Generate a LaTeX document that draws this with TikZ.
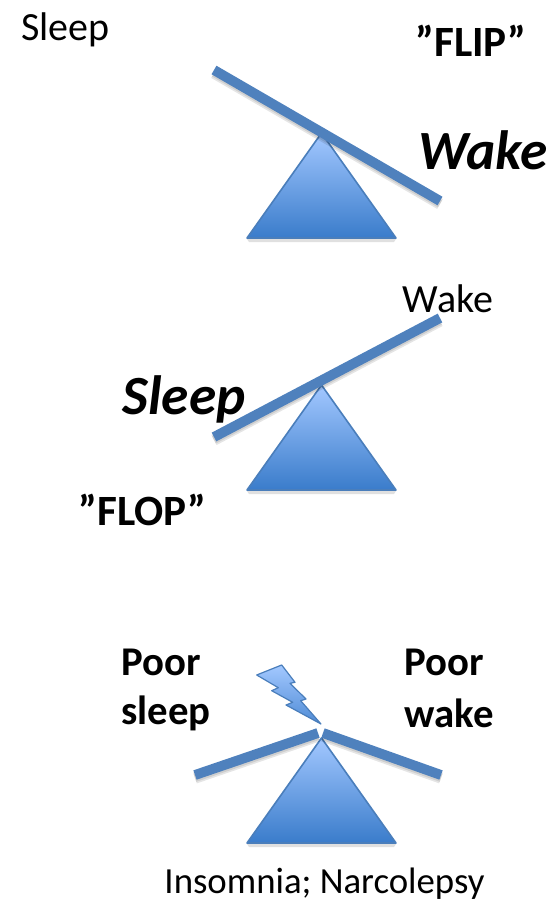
\documentclass[tikz,border=0pt]{standalone}
\usepackage{fontspec}
\setmainfont{Carlito}
\definecolor{beamc}{HTML}{4F81BD}
\definecolor{edgec}{HTML}{4A7EBB}
\definecolor{topc}{HTML}{A3C8FF}
\definecolor{botc}{HTML}{3A7CCB}
\tikzset{
  fulcrum/.style={draw=edgec,line width=1.2pt,line join=round,top color=topc,bottom color=botc},
  softshadow/.style={black,opacity=0.10,line width=#1},
  beam/.style={beamc,line width=7.4pt},
  lab/.style={inner sep=0pt,anchor=center,text=black},
  plainlab/.style={lab,font=\fontsize{30}{30}\selectfont},
  condlab/.style={lab,font=\fontsize{27.6}{28}\selectfont},
  boldlab/.style={lab,font=\fontsize{32.4}{32}\selectfont\bfseries},
  poorlab/.style={lab,font=\fontsize{30.6}{31}\selectfont\bfseries},
  bigital/.style={lab,font=\fontsize{41.5}{42}\selectfont\bfseries\itshape},
}
\newcommand{\seesawbase}[1]{%
  \fill[black,opacity=0.12] (247,#1+106) -- (396,#1+106) -- (394,#1+109) -- (249,#1+109) -- cycle;
  \path[fulcrum] (321.5,#1) -- (396,#1+105) -- (247,#1+105) -- cycle;
}
\newcommand{\beamline}[4]{%
  \draw[softshadow=8.5pt] (#1,#2+3) -- (#3,#4+3);
  \draw[softshadow=6pt] (#1,#2+3) -- (#3,#4+3);
  \draw[beam] (#1,#2) -- (#3,#4);
}
\begin{document}
\begin{tikzpicture}[x=0.75pt,y=-0.75pt]
\useasboundingbox (0,0) rectangle (549,901);
% top seesaw
\seesawbase{133}
\beamline{214}{70}{440}{201}
% middle seesaw
\seesawbase{385}
\beamline{214}{437}{440}{318}
% bottom seesaw
\seesawbase{738}
\beamline{195}{775}{318}{733}
\beamline{323}{733}{441}{775}
% lightning bolt
\path[fulcrum,line width=0.9pt,top color=topc,bottom color=botc!80!topc]
  (256.7,675) -- (281.7,665) -- (295,682.3) -- (290,683.3) -- (306,699) -- (300.7,700.7)
  -- (321,724) -- (286,705) -- (292.7,702.3) -- (271.7,690.7) -- (278.3,687.7) -- cycle;
% labels
\node[plainlab] (sleepa) at (65.5,30) {Sleep};
\node[boldlab] (flip) at (471,41) {”FLIP”};
\node[bigital] (wakea) at (483,150.5) {Wake};
\node[plainlab] (wakeb) at (448,299) {Wake};
\node[bigital] (sleepb) at (184,399.5) {Sleep};
\node[boldlab] (flop) at (142.5,510) {”FLOP”};
\node[poorlab] (poorsleepa) at (161.5,662) {Poor};
\node[poorlab] (poorsleepb) at (166,713) {sleep};
\node[poorlab] (poorwakea) at (444.5,662) {Poor};
\node[poorlab] (poorwakeb) at (449,713) {wake};
\node[condlab] (cond) at (324.5,883.5) {Insomnia; Narcolepsy};
\end{tikzpicture}
\end{document}
